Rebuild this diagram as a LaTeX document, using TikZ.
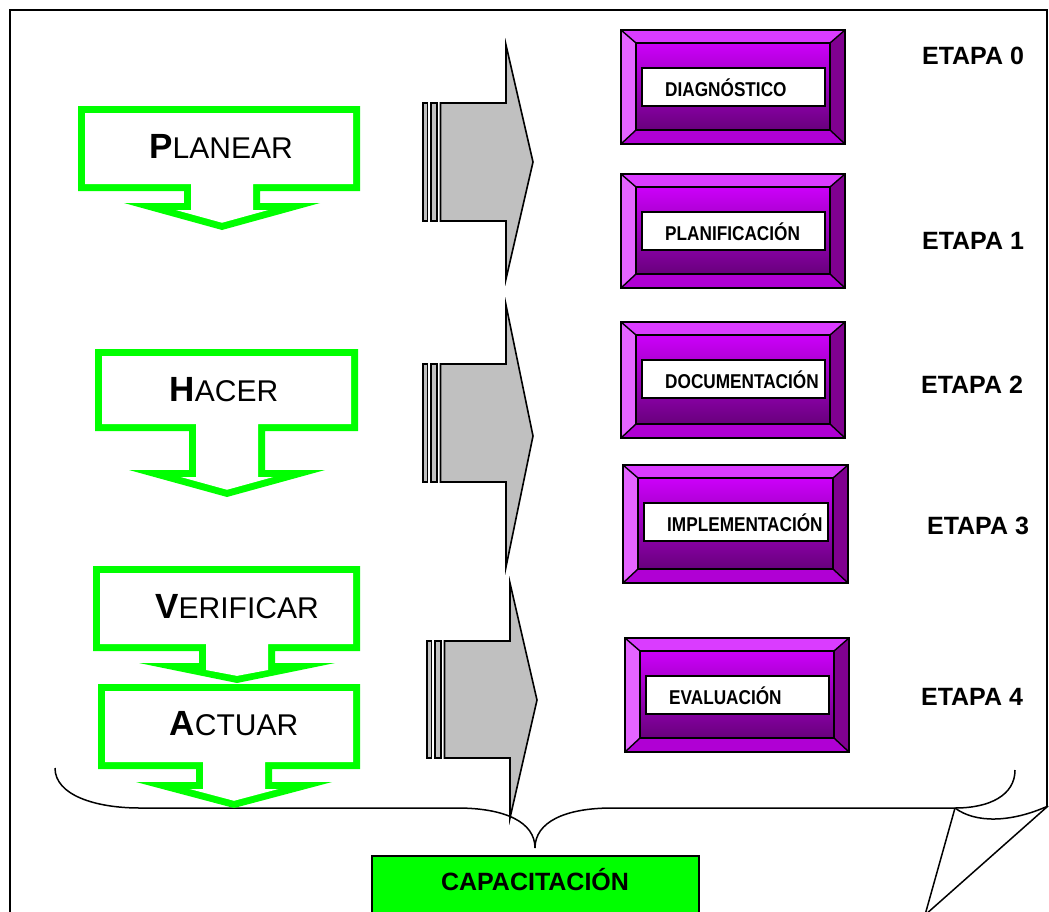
\documentclass[tikz,border=0pt]{standalone}
\usepackage{fontspec}
\setmainfont{Liberation Sans}
\newfontfamily\narrowfont[FakeStretch=0.86]{Liberation Sans}
\usetikzlibrary{calc}

\definecolor{pdcagreen}{RGB}{0,255,0}
\definecolor{arrowgray}{RGB}{192,192,192}
\definecolor{bvtop}{RGB}{218,60,255}
\definecolor{bvleft}{RGB}{228,100,255}
\definecolor{bvright}{RGB}{128,0,144}
\definecolor{bvbottom}{RGB}{176,0,212}
\definecolor{facetop}{RGB}{204,0,250}
\definecolor{facemid}{RGB}{182,0,226}
\definecolor{facebot}{RGB}{104,0,124}

\tikzset{
  pageline/.style={line width=2pt, black},
  braceline/.style={line width=1.5pt, black},
  grayshape/.style={fill=arrowgray, draw=black, line width=1.6pt, line join=miter},
  graybar/.style={fill=arrowgray, draw=black, line width=1.1pt},
  bvline/.style={draw=black, line width=1.4pt},
  steptext/.style={font=\fontsize{20}{20}\selectfont\narrowfont\bfseries, inner sep=0pt},
  etapatext/.style={font=\fontsize{25}{25}\selectfont\bfseries, inner sep=0pt},
}

% Down-arrow callout drawn as a green band: L R T B cx W(wing) P(tip)
\newcommand{\pdcallout}[7]{%
  \pgfmathsetmacro\kk{(#7-#6)/98}%
  \pgfmathsetmacro\dd{7*sqrt(1+\kk*\kk)}%
  \pgfmathsetmacro\hh{max(31,(#7-\dd-#6-7)/\kk)}%
  \fill[pdcagreen] (#1,#3) -- (#2,#3) -- (#2,#4) -- ({#5+38},#4) -- ({#5+38},#6)
    -- ({#5+98},#6) -- (#5,#7) -- ({#5-98},#6) -- ({#5-38},#6) -- ({#5-38},#4)
    -- (#1,#4) -- cycle;
  \fill[white] ({#1+7},{#3+7}) -- ({#2-7},{#3+7}) -- ({#2-7},{#4-7}) -- ({#5+31},{#4-7})
    -- ({#5+31},{#6+7}) -- ({#5+\hh},{#6+7}) -- (#5,{#7-\dd}) -- ({#5-\hh},{#6+7})
    -- ({#5-31},{#6+7}) -- ({#5-31},{#4-7}) -- ({#1+7},{#4-7}) -- cycle;
}

% Striped block arrow pointing right: x0, head top, body top, body bottom, head bottom, tip y
\newcommand{\grayarrow}[6]{%
  \draw[graybar] (#1,#3) rectangle ({#1+4.5},#4);
  \draw[graybar] ({#1+8},#3) rectangle ({#1+14},#4);
  \draw[grayshape] ({#1+17.5},#3) -- ({#1+83},#3) -- ({#1+83},#2) -- ({#1+110},#6)
    -- ({#1+83},#5) -- ({#1+83},#4) -- ({#1+17.5},#4) -- cycle;
}

% Bevelled purple button with a white label: name, x1, y1, x2, y2, text
\newcommand{\bevelbox}[6]{%
  \pgfmathsetmacro\ia{#2+15}\pgfmathsetmacro\ib{#3+13}%
  \pgfmathsetmacro\ic{#4-15}\pgfmathsetmacro\id{#5-14}%
  \fill[bvtop] (#2,#3) -- (#4,#3) -- (\ic,\ib) -- (\ia,\ib) -- cycle;
  \fill[bvleft] (#2,#3) -- (\ia,\ib) -- (\ia,\id) -- (#2,#5) -- cycle;
  \fill[bvright] (#4,#3) -- (#4,#5) -- (\ic,\id) -- (\ic,\ib) -- cycle;
  \fill[bvbottom] (#2,#5) -- (\ia,\id) -- (\ic,\id) -- (#4,#5) -- cycle;
  \shade[top color=facetop, middle color=facemid, bottom color=facebot] (\ia,\ib) rectangle (\ic,\id);
  \draw[bvline] (#2,#3) rectangle (#4,#5);
  \draw[bvline] (\ia,\ib) rectangle (\ic,\id);
  \draw[bvline] (#2,#3) -- (\ia,\ib) (#4,#3) -- (\ic,\ib) (#2,#5) -- (\ia,\id) (#4,#5) -- (\ic,\id);
  \pgfmathsetmacro\la{#2+21}\pgfmathsetmacro\lb{#3+38}%
  \pgfmathsetmacro\lc{#4-20}\pgfmathsetmacro\ld{#3+76}%
  \draw[bvline, fill=white] (\la,\lb) rectangle (\lc,\ld);
  \node[steptext, anchor=west] (#1) at ({#2+44},{(\lb+\ld)/2+1}) {#6};
}

\newcommand{\pdcaword}[2]{{\fontsize{35}{35}\selectfont\bfseries #1}{\fontsize{30}{30}\selectfont #2}}

\begin{document}
\begin{tikzpicture}[x=1pt, y=-1pt]
\useasboundingbox (0,0) rectangle (1049,911);
\fill[white] (0,0) rectangle (1049,911);

% page frame
\draw[pageline] (1047,806) -- (1047,10) -- (10,10) -- (10,925);

% brace gathering all stages
\draw[braceline] (55,768) .. controls (55,795) and (95,808) .. (140,808) -- (457,808)
  .. controls (505,808) and (535,822) .. (535,848)
  .. controls (535,822) and (565,808) .. (612,808) -- (955,808)
  .. controls (990,808) and (1015,795) .. (1015,770);

% gray block arrows
\grayarrow{423}{45}{103}{221}{279}{162}
\grayarrow{423}{305}{364}{482}{567}{436}
\grayarrow{427}{583}{641}{758}{818}{700}

% PDCA callouts
\pdcallout{78}{360}{106}{191}{222}{203}{230}
\pdcallout{95}{358}{349}{431}{227}{470}{497}
\pdcallout{93}{360}{566}{651}{237}{663}{683}
\pdcallout{98}{360}{684}{769}{234}{782}{808}

\node[anchor=base, inner sep=0pt] (planear) at (221,158) {\pdcaword{P}{LANEAR}};
\node[anchor=base, inner sep=0pt] (hacer) at (224,401) {\pdcaword{H}{ACER}};
\node[anchor=base, inner sep=0pt] (verificar) at (237,618) {\pdcaword{V}{ERIFICAR}};
\node[anchor=base, inner sep=0pt] (actuar) at (234,735) {\pdcaword{A}{CTUAR}};

% stage buttons
\bevelbox{diag}{621}{30}{845}{144}{DIAGNÓSTICO}
\bevelbox{plan}{621}{174}{845}{288}{PLANIFICACIÓN}
\bevelbox{docu}{621}{322}{845}{438}{DOCUMENTACIÓN}
\bevelbox{impl}{623}{465}{848}{583}{IMPLEMENTACIÓN}
\bevelbox{eval}{625}{638}{849}{752}{EVALUACIÓN}

% stage labels
\node[etapatext] (e0) at (973,56) {ETAPA 0};
\node[etapatext] (e1) at (973,241) {ETAPA 1};
\node[etapatext] (e2) at (972,385) {ETAPA 2};
\node[etapatext] (e3) at (978,526) {ETAPA 3};
\node[etapatext] (e4) at (972,697) {ETAPA 4};

% training box
\draw[line width=1.8pt, fill=pdcagreen] (372,856) rectangle (699,915);
\node[anchor=base, inner sep=0pt, font=\fontsize{25}{25}\selectfont\bfseries] (capa) at (535,890) {CAPACITACIÓN};

% turned-up page corner
\draw[braceline, line join=miter] (955,808) -- (925,915) (1048,806) -- (925,915);
\draw[braceline] (955,808) .. controls (975,823) and (1010,823) .. (1048,806);
\end{tikzpicture}
\end{document}
